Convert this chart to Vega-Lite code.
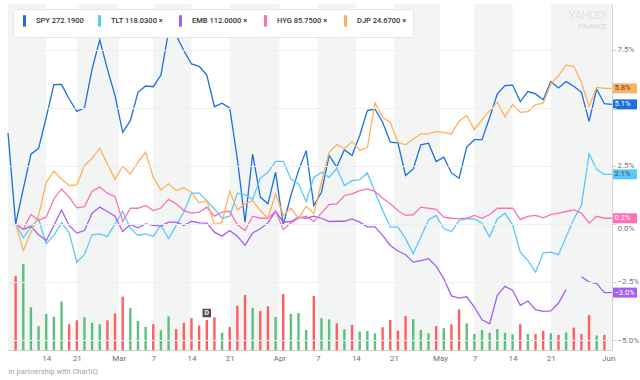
{
  "$schema": "https://vega.github.io/schema/vega-lite/v6.json",
  "width": 604,
  "height": 346,
  "autosize": "none",
  "padding": {"left": 8, "top": 4, "right": 28, "bottom": 30},
  "background": "#ffffff",
  "config": {"view": {"stroke": null}, "font": "Roboto"},
  "title": {"text": "YAHOO!", "subtitle": "FINANCE", "anchor": "end", "orient": "top", "frame": "group", "offset": -26, "dx": -5, "color": "#d6d6d6", "font": "Roboto", "fontSize": 11, "fontWeight": 300, "subtitleColor": "#d6d6d6", "subtitleFont": "Roboto", "subtitleFontSize": 7, "subtitlePadding": 2},
  "data": {"values": [
    {"date":"2018-02-07","SPY":3.91,"TLT":null,"EMB":null,"HYG":null,"DJP":null,"vol":null,"dir":null},
    {"date":"2018-02-08","SPY":0,"TLT":0,"EMB":0,"HYG":0,"DJP":0,"vol":244,"dir":"down"},
    {"date":"2018-02-09","SPY":1.5,"TLT":-0.6,"EMB":-0.24,"HYG":-0.24,"DJP":-1.15,"vol":284,"dir":"up"},
    {"date":"2018-02-12","SPY":3.0,"TLT":-0.14,"EMB":-0.11,"HYG":0.4,"DJP":-0.36,"vol":141,"dir":"up"},
    {"date":"2018-02-13","SPY":3.25,"TLT":0.21,"EMB":-0.47,"HYG":0.14,"DJP":0.36,"vol":79,"dir":"up"},
    {"date":"2018-02-14","SPY":4.58,"TLT":-0.86,"EMB":-0.72,"HYG":0.29,"DJP":1.79,"vol":119,"dir":"up"},
    {"date":"2018-02-15","SPY":5.99,"TLT":-0.5,"EMB":-0.07,"HYG":1.07,"DJP":2.26,"vol":110,"dir":"up"},
    {"date":"2018-02-16","SPY":6.0,"TLT":0.04,"EMB":0.6,"HYG":1.5,"DJP":1.93,"vol":160,"dir":"up"},
    {"date":"2018-02-20","SPY":5.37,"TLT":-0.39,"EMB":-0.07,"HYG":1.15,"DJP":1.65,"vol":85,"dir":"down"},
    {"date":"2018-02-21","SPY":4.84,"TLT":-1.65,"EMB":-0.4,"HYG":0.69,"DJP":1.68,"vol":98,"dir":"down"},
    {"date":"2018-02-22","SPY":4.99,"TLT":-1.32,"EMB":-0.29,"HYG":0.74,"DJP":2.51,"vol":108,"dir":"up"},
    {"date":"2018-02-23","SPY":6.66,"TLT":-0.47,"EMB":0.46,"HYG":1.4,"DJP":2.82,"vol":90,"dir":"up"},
    {"date":"2018-02-26","SPY":7.92,"TLT":-0.43,"EMB":0.72,"HYG":1.58,"DJP":3.25,"vol":85,"dir":"up"},
    {"date":"2018-02-27","SPY":6.66,"TLT":-0.54,"EMB":0.53,"HYG":1.32,"DJP":2.58,"vol":98,"dir":"down"},
    {"date":"2018-02-28","SPY":5.52,"TLT":0,"EMB":0.33,"HYG":1.17,"DJP":1.91,"vol":120,"dir":"down"},
    {"date":"2018-03-01","SPY":3.94,"TLT":0.54,"EMB":-0.33,"HYG":0.1,"DJP":2.48,"vol":176,"dir":"down"},
    {"date":"2018-03-02","SPY":4.44,"TLT":-0.19,"EMB":-0.03,"HYG":0.67,"DJP":2.15,"vol":138,"dir":"up"},
    {"date":"2018-03-05","SPY":5.66,"TLT":-0.5,"EMB":-0.17,"HYG":0.67,"DJP":2.65,"vol":96,"dir":"up"},
    {"date":"2018-03-06","SPY":5.93,"TLT":-0.43,"EMB":0,"HYG":0.79,"DJP":3.08,"vol":76,"dir":"up"},
    {"date":"2018-03-07","SPY":5.9,"TLT":-0.54,"EMB":-0.07,"HYG":0.57,"DJP":2.01,"vol":85,"dir":"down"},
    {"date":"2018-03-08","SPY":6.4,"TLT":-0.05,"EMB":-0.1,"HYG":0.68,"DJP":1.45,"vol":65,"dir":"up"},
    {"date":"2018-03-09","SPY":8.27,"TLT":-0.64,"EMB":0.07,"HYG":1.05,"DJP":1.72,"vol":111,"dir":"up"},
    {"date":"2018-03-12","SPY":8.12,"TLT":-0.07,"EMB":0.07,"HYG":0.86,"DJP":1.43,"vol":69,"dir":"down"},
    {"date":"2018-03-13","SPY":7.45,"TLT":0.5,"EMB":-0.07,"HYG":0.57,"DJP":1.55,"vol":90,"dir":"down"},
    {"date":"2018-03-14","SPY":6.88,"TLT":1.32,"EMB":0.11,"HYG":0.46,"DJP":1.36,"vol":105,"dir":"down"},
    {"date":"2018-03-15","SPY":6.78,"TLT":1.32,"EMB":0.04,"HYG":0.5,"DJP":0.9,"vol":81,"dir":"down"},
    {"date":"2018-03-16","SPY":6.4,"TLT":1.0,"EMB":0.03,"HYG":0.72,"DJP":1.0,"vol":99,"dir":"down","event":"D"},
    {"date":"2018-03-19","SPY":5.04,"TLT":0.64,"EMB":-0.36,"HYG":0.33,"DJP":-0.03,"vol":108,"dir":"down"},
    {"date":"2018-03-20","SPY":5.19,"TLT":0.24,"EMB":-0.53,"HYG":0.5,"DJP":0.07,"vol":57,"dir":"up"},
    {"date":"2018-03-21","SPY":4.99,"TLT":0.33,"EMB":-0.29,"HYG":0.54,"DJP":1.4,"vol":76,"dir":"down"},
    {"date":"2018-03-22","SPY":2.79,"TLT":1.32,"EMB":-0.53,"HYG":-0.04,"DJP":0.6,"vol":146,"dir":"down"},
    {"date":"2018-03-23","SPY":0.07,"TLT":1.26,"EMB":-0.93,"HYG":-0.29,"DJP":0.86,"vol":182,"dir":"down"},
    {"date":"2018-03-26","SPY":3.0,"TLT":1.05,"EMB":-0.39,"HYG":0.33,"DJP":1.0,"vol":139,"dir":"up"},
    {"date":"2018-03-27","SPY":1.15,"TLT":1.96,"EMB":-0.21,"HYG":0.24,"DJP":0.57,"vol":129,"dir":"down"},
    {"date":"2018-03-28","SPY":0.86,"TLT":2.22,"EMB":0.04,"HYG":0.24,"DJP":0.24,"vol":144,"dir":"down"},
    {"date":"2018-03-29","SPY":2.22,"TLT":2.69,"EMB":0.54,"HYG":0.54,"DJP":1.29,"vol":109,"dir":"up"},
    {"date":"2018-04-02","SPY":-0.04,"TLT":2.69,"EMB":0.07,"HYG":-0.24,"DJP":0.36,"vol":185,"dir":"down"},
    {"date":"2018-04-03","SPY":1.22,"TLT":1.93,"EMB":0.1,"HYG":0.04,"DJP":0.67,"vol":119,"dir":"up"},
    {"date":"2018-04-04","SPY":2.29,"TLT":1.72,"EMB":0.29,"HYG":0.24,"DJP":0.24,"vol":122,"dir":"up"},
    {"date":"2018-04-05","SPY":3.15,"TLT":0.95,"EMB":0.24,"HYG":0.33,"DJP":0.76,"vol":66,"dir":"up"},
    {"date":"2018-04-06","SPY":0.79,"TLT":2.0,"EMB":0.33,"HYG":0.1,"DJP":0.43,"vol":178,"dir":"down"},
    {"date":"2018-04-09","SPY":1.36,"TLT":2.22,"EMB":0.24,"HYG":0.47,"DJP":1.79,"vol":105,"dir":"up"},
    {"date":"2018-04-10","SPY":2.94,"TLT":2.0,"EMB":0.1,"HYG":0.83,"DJP":3.08,"vol":101,"dir":"up"},
    {"date":"2018-04-11","SPY":2.44,"TLT":2.39,"EMB":0.11,"HYG":0.86,"DJP":3.41,"vol":88,"dir":"down"},
    {"date":"2018-04-12","SPY":3.19,"TLT":1.65,"EMB":0.11,"HYG":1.22,"DJP":3.22,"vol":68,"dir":"up"},
    {"date":"2018-04-13","SPY":2.94,"TLT":1.86,"EMB":0.21,"HYG":1.29,"DJP":3.54,"vol":83,"dir":"down"},
    {"date":"2018-04-16","SPY":3.8,"TLT":1.9,"EMB":0.07,"HYG":1.43,"DJP":3.18,"vol":61,"dir":"up"},
    {"date":"2018-04-17","SPY":4.87,"TLT":2.19,"EMB":-0.13,"HYG":1.5,"DJP":3.27,"vol":63,"dir":"up"},
    {"date":"2018-04-18","SPY":4.94,"TLT":1.36,"EMB":-0.13,"HYG":1.4,"DJP":5.2,"vol":55,"dir":"up"},
    {"date":"2018-04-19","SPY":4.37,"TLT":0.57,"EMB":-0.5,"HYG":1.1,"DJP":4.58,"vol":75,"dir":"down"},
    {"date":"2018-04-20","SPY":3.51,"TLT":-0.14,"EMB":-0.93,"HYG":0.86,"DJP":4.37,"vol":99,"dir":"down"},
    {"date":"2018-04-23","SPY":3.48,"TLT":-0.14,"EMB":-1.17,"HYG":0.57,"DJP":3.51,"vol":64,"dir":"down"},
    {"date":"2018-04-24","SPY":2.08,"TLT":-0.64,"EMB":-1.33,"HYG":0.36,"DJP":3.4,"vol":112,"dir":"down"},
    {"date":"2018-04-25","SPY":2.36,"TLT":-1.29,"EMB":-1.65,"HYG":0.39,"DJP":3.65,"vol":102,"dir":"up"},
    {"date":"2018-04-26","SPY":3.4,"TLT":-0.57,"EMB":-1.58,"HYG":0.72,"DJP":3.87,"vol":66,"dir":"up"},
    {"date":"2018-04-27","SPY":3.47,"TLT":0.17,"EMB":-1.5,"HYG":0.67,"DJP":3.87,"vol":55,"dir":"up"},
    {"date":"2018-04-30","SPY":2.68,"TLT":0.36,"EMB":-1.82,"HYG":0.62,"DJP":3.97,"vol":79,"dir":"down"},
    {"date":"2018-05-01","SPY":2.87,"TLT":-0.21,"EMB":-2.36,"HYG":0.29,"DJP":3.94,"vol":72,"dir":"up"},
    {"date":"2018-05-02","SPY":2.19,"TLT":-0.33,"EMB":-3.1,"HYG":0.24,"DJP":3.87,"vol":85,"dir":"down"},
    {"date":"2018-05-03","SPY":1.96,"TLT":0.14,"EMB":-3.2,"HYG":0.22,"DJP":4.42,"vol":134,"dir":"down"},
    {"date":"2018-05-04","SPY":3.3,"TLT":0.22,"EMB":-3.14,"HYG":0.24,"DJP":4.66,"vol":88,"dir":"up"},
    {"date":"2018-05-07","SPY":3.62,"TLT":0.21,"EMB":-3.58,"HYG":0.36,"DJP":4.05,"vol":53,"dir":"up"},
    {"date":"2018-05-08","SPY":3.62,"TLT":0.03,"EMB":-4.13,"HYG":0.24,"DJP":4.47,"vol":66,"dir":"up"},
    {"date":"2018-05-09","SPY":4.58,"TLT":-0.57,"EMB":-4.3,"HYG":0.4,"DJP":4.87,"vol":57,"dir":"up"},
    {"date":"2018-05-10","SPY":5.59,"TLT":0.21,"EMB":-3.08,"HYG":0.67,"DJP":5.23,"vol":69,"dir":"up"},
    {"date":"2018-05-11","SPY":5.95,"TLT":0.46,"EMB":-2.69,"HYG":0.67,"DJP":4.61,"vol":57,"dir":"up"},
    {"date":"2018-05-14","SPY":5.97,"TLT":-0.04,"EMB":-2.86,"HYG":0.67,"DJP":5.13,"vol":52,"dir":"up"},
    {"date":"2018-05-15","SPY":5.26,"TLT":-1.22,"EMB":-3.51,"HYG":0.19,"DJP":4.8,"vol":85,"dir":"down"},
    {"date":"2018-05-16","SPY":5.69,"TLT":-1.58,"EMB":-3.32,"HYG":0.32,"DJP":4.83,"vol":53,"dir":"up"},
    {"date":"2018-05-17","SPY":5.59,"TLT":-2.08,"EMB":-3.69,"HYG":0.36,"DJP":5.13,"vol":53,"dir":"down"},
    {"date":"2018-05-18","SPY":5.34,"TLT":-1.25,"EMB":-3.77,"HYG":0.26,"DJP":5.19,"vol":63,"dir":"down"},
    {"date":"2018-05-21","SPY":6.12,"TLT":-1.22,"EMB":-3.75,"HYG":0.4,"DJP":6.02,"vol":55,"dir":"up"},
    {"date":"2018-05-22","SPY":5.85,"TLT":-1.33,"EMB":-3.41,"HYG":0.46,"DJP":6.38,"vol":50,"dir":"down"},
    {"date":"2018-05-23","SPY":6.12,"TLT":-0.57,"EMB":-2.83,"HYG":0.53,"DJP":6.83,"vol":58,"dir":"up"},
    {"date":"2018-05-24","SPY":5.92,"TLT":0.21,"EMB":null,"HYG":0.6,"DJP":6.78,"vol":74,"dir":"down"},
    {"date":"2018-05-25","SPY":5.66,"TLT":0.79,"EMB":-2.28,"HYG":0.46,"DJP":6.09,"vol":53,"dir":"down"},
    {"date":"2018-05-29","SPY":4.41,"TLT":3.01,"EMB":-2.5,"HYG":0.03,"DJP":5.06,"vol":116,"dir":"down"},
    {"date":"2018-05-30","SPY":5.8,"TLT":2.34,"EMB":-2.57,"HYG":0.33,"DJP":5.87,"vol":48,"dir":"up"},
    {"date":"2018-05-31","SPY":5.17,"TLT":2.13,"EMB":-2.96,"HYG":0.24,"DJP":5.83,"vol":50,"dir":"down"},
    {"date":"2018-06-01","SPY":5.14,"TLT":2.13,"EMB":-2.96,"HYG":0.24,"DJP":5.83,"vol":null,"dir":null}
  ]},
  "encoding": {
    "x": {
      "field": "date", "type": "ordinal", "scale": {"type": "point", "padding": 0},
      "axis": {
        "values": ["2018-02-14","2018-02-21","2018-03-01","2018-03-07","2018-03-14","2018-03-21","2018-04-02","2018-04-09","2018-04-16","2018-04-23","2018-05-01","2018-05-07","2018-05-14","2018-05-21","2018-06-01"],
        "labelExpr": "{'2018-02-14':'14','2018-02-21':'21','2018-03-01':'Mar','2018-03-07':'7','2018-03-14':'14','2018-03-21':'21','2018-04-02':'Apr','2018-04-09':'7','2018-04-16':'14','2018-04-23':'21','2018-05-01':'May','2018-05-07':'7','2018-05-14':'14','2018-05-21':'21','2018-06-01':'Jun'}[datum.value]",
        "labelOffset": {"condition": {"test": "indexof(['2018-03-01','2018-04-02','2018-04-09','2018-04-16','2018-04-23','2018-05-01','2018-06-01'], datum.value) >= 0", "value": -3.82}, "value": 0},
        "ticks": false, "grid": false, "domainColor": "#cfcfcf", "labelColor": "#6f6f6f", "labelFontSize": 8, "labelFont": "Roboto", "labelPadding": 4, "labelAngle": 0, "labelOverlap": false,
        "title": "In partnership with ChartIQ", "titleAnchor": "start", "titleAlign": "left", "titleFontSize": 7.5, "titleFontWeight": "normal", "titleFont": "Roboto", "titleColor": "#a3a3a3", "titlePadding": 5
      }
    }
  },
  "layer": [
    {
      "data": {"values": [
        {"date":"2018-02-07","end":"2018-02-14"},
        {"date":"2018-03-07","end":"2018-03-14"},
        {"date":"2018-05-07","end":"2018-05-14"},
        {"date":"2018-05-21","end":"2018-06-01"}
      ]},
      "mark": {"type": "rect", "color": "#f3f5f5"},
      "encoding": {"x2": {"field": "end"}}
    },
    {
      "data": {"values": [
        {"date":"2018-02-21","end":"2018-03-01"},
        {"date":"2018-03-21","end":"2018-04-02"}
      ]},
      "mark": {"type": "rect", "color": "#f3f5f5", "x2Offset": -3.82},
      "encoding": {"x2": {"field": "end"}}
    },
    {
      "data": {"values": [
        {"date":"2018-04-09","end":"2018-04-16"},
        {"date":"2018-04-23","end":"2018-05-01"}
      ]},
      "mark": {"type": "rect", "color": "#f3f5f5", "xOffset": -3.82, "x2Offset": -3.82},
      "encoding": {"x2": {"field": "end"}}
    },
    {
      "layer": [
        {
          "mark": {"type": "bar", "width": 2.4},
          "encoding": {
            "y": {"field": "vol", "type": "quantitative", "scale": {"domain": [0, 1142], "nice": false}, "axis": null},
            "color": {"condition": {"test": "datum.dir == 'up'", "value": "#5cbf7b"}, "value": "#ff5e5e"}
          }
        },
        {
          "transform": [{"filter": "datum.event == 'D'"}],
          "mark": {"type": "point", "shape": "square", "size": 72, "filled": true, "opacity": 1, "color": "#4d4f52", "yOffset": -7},
          "encoding": {"y": {"field": "vol", "type": "quantitative", "axis": null}}
        },
        {
          "transform": [{"filter": "datum.event == 'D'"}],
          "mark": {"type": "text", "color": "#ffffff", "fontSize": 7, "fontWeight": "bold", "yOffset": -7, "baseline": "middle", "align": "center"},
          "encoding": {
            "y": {"field": "vol", "type": "quantitative", "axis": null},
            "text": {"field": "event"}
          }
        }
      ]
    },
    {
      "transform": [{"fold": ["SPY", "TLT", "EMB", "HYG", "DJP"], "as": ["sym", "pct"]}],
      "encoding": {
        "y": {
          "field": "pct", "type": "quantitative",
          "scale": {"domain": [-5.43, 9.46], "nice": false, "zero": false},
          "axis": {"orient": "right", "values": [-5, -2.5, 0, 2.5, 5, 7.5], "labelExpr": "datum.value == 5 ? '' : format(datum.value, '.1f') + '%'", "labelOffset": {"condition": {"test": "datum.value == 0", "value": 5}, "value": 0}, "grid": true, "gridColor": "#eeeeee", "domainColor": "#d4d4d4", "tickColor": "#d4d4d4", "tickSize": 4, "labelColor": "#777777", "labelFontSize": 8, "labelFont": "Roboto", "labelPadding": 1, "title": null, "zindex": 1}
        }
      },
      "layer": [
        {
          "mark": {"type": "line", "strokeWidth": 1.3, "invalid": "break-paths-show-domains"},
          "encoding": {
            "color": {
              "field": "sym", "type": "nominal",
              "scale": {"domain": ["SPY", "TLT", "EMB", "HYG", "DJP"], "range": ["#1a6fe0", "#5ac8fa", "#a45ef2", "#ff6fb5", "#ffb05c"]},
              "legend": {"orient": "top-left", "offset": 5, "direction": "horizontal", "title": null, "symbolType": "M0,-1V1", "symbolSize": 130, "symbolStrokeWidth": 3, "labelFontSize": 7.5, "labelFont": "Roboto", "labelFontWeight": 500, "labelColor": "#333333", "labelLimit": 200, "labelOffset": 4, "columnPadding": 8, "fillColor": "#ffffff", "padding": 4, "cornerRadius": 2, "strokeColor": "#e6e6e6",
                "labelExpr": "{'SPY':'SPY 272.1900','TLT':'TLT 118.0300  \u00d7','EMB':'EMB 112.0000  \u00d7','HYG':'HYG 85.7500  \u00d7','DJP':'DJP 24.6700  \u00d7'}[datum.label]"}
            }
          }
        },
        {
          "transform": [{"filter": "datum.date == '2018-06-01'"}],
          "mark": {"type": "point", "shape": "M0,-0.5H2.5V0.5H0Z", "size": 400, "filled": true, "opacity": 1, "strokeWidth": 0},
          "encoding": {
            "color": {"field": "sym", "type": "nominal", "legend": null}
          }
        },
        {
          "transform": [{"filter": "datum.date == '2018-06-01'"}, {"calculate": "format(datum.pct, '.1f') + '%'", "as": "lbl"}],
          "mark": {"type": "text", "align": "left", "baseline": "middle", "dx": 2.5, "fontSize": 7.5, "font": "Roboto"},
          "encoding": {
            "text": {"field": "lbl"},
            "color": {"condition": {"test": "datum.sym == 'DJP' || datum.sym == 'TLT'", "value": "#4a4a4a"}, "value": "#ffffff"}
          }
        }
      ]
    }
  ],
  "resolve": {"scale": {"y": "independent"}}
}
